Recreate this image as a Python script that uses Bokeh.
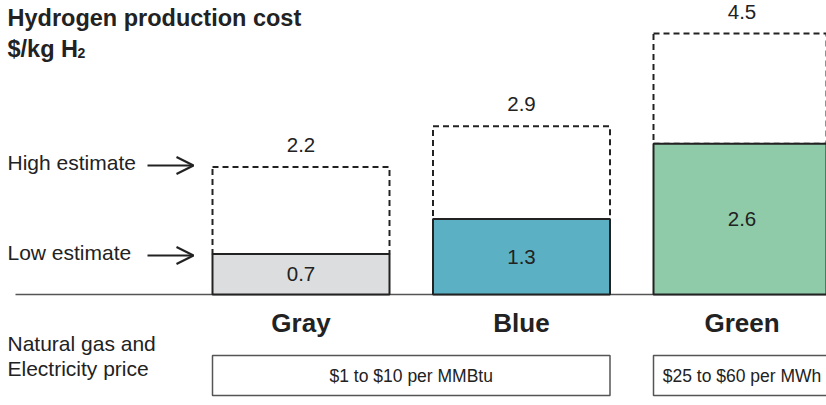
from bokeh.plotting import figure
from bokeh.models import Range1d, Arrow, OpenHead, ColumnDataSource
from bokeh.core.properties import value
from bokeh.embed import file_html
from bokeh.resources import INLINE

# ---- data ----
categories = ["Gray", "Blue", "Green"]
low_estimate = [0.7, 1.3, 2.6]
high_estimate = [2.2, 2.9, 4.5]
bar_colors = ["#dcdddf", "#5bb1c3", "#8fcba8"]
price_labels = ["$1 to $10 per MMBtu", "$25 to $60 per MWh"]
price_groups = [(0, 1), (2, 2)]  # category index span of each price box
title_line1 = "Hydrogen production cost"
title_line2 = "$/kg H"
title_sub = "2"
row_label = ["Natural gas and", "Electricity price"]
marker_labels = ["High estimate", "Low estimate"]

FONT = "Liberation Sans"
W, H = 826, 405
PX_PER_CAT = 220.5
FIRST_CENTER = 300.5
BASE_PX = 294
PX_PER_UNIT = 58.0
BAR_W = 177 / PX_PER_CAT
TXT = "#222222"


def xs(px):
    return (px - FIRST_CENTER) / PX_PER_CAT


def ys(px):
    return (BASE_PX - px) / PX_PER_UNIT


p = figure(width=W, height=H, output_backend="svg", toolbar_location=None,
           x_range=Range1d(xs(0), xs(W)), y_range=Range1d(ys(H), ys(0)),
           min_border=0, min_border_left=0, min_border_right=0,
           min_border_top=0, min_border_bottom=0)
p.axis.visible = False
p.grid.visible = False
p.outline_line_color = None
p.background_fill_color = "white"
p.border_fill_color = "white"

idx = list(range(len(categories)))
src = ColumnDataSource(dict(x=idx, low=low_estimate, high=high_estimate,
                            color=bar_colors, cat=categories,
                            low_txt=[f"{v:.1f}" for v in low_estimate],
                            high_txt=[f"{v:.1f}" for v in high_estimate],
                            low_mid=[v / 2 for v in low_estimate],
                            high_lab=[v + 22 / PX_PER_UNIT for v in high_estimate],
                            cat_y=[ys(322)] * len(categories)))

# baseline
p.segment(x0=[xs(15)], y0=[0], x1=[xs(W + 5)], y1=[0], line_color="#555555", line_width=1.5)

# dashed high-estimate boxes
p.vbar(x="x", width=BAR_W, bottom="low", top="high", source=src, fill_color=None,
       line_color="#222222", line_width=2, line_dash="6 4")
# solid low-estimate bars
p.vbar(x="x", width=BAR_W, bottom=0, top="low", source=src, fill_color="color",
       line_color="#222222", line_width=2)

p.text(x="x", y="low_mid", text="low_txt", source=src, text_align="center",
       text_baseline="middle", text_font=value(FONT), text_font_size="20.5px", text_color=TXT)
p.text(x="x", y="high_lab", text="high_txt", source=src, text_align="center",
       text_baseline="middle", text_font=value(FONT), text_font_size="20.5px", text_color=TXT)
p.text(x="x", y="cat_y", text="cat", source=src, text_align="center",
       text_baseline="middle", text_font=value(FONT), text_font_size="26px",
       text_font_style="bold", text_color=TXT)

# price boxes
lefts = [idx[a] - BAR_W / 2 for a, b in price_groups]
rights = [idx[b] + BAR_W / 2 for a, b in price_groups]
p.quad(left=lefts, right=rights, top=[ys(355)] * 2, bottom=[ys(395)] * 2,
       fill_color="white", line_color="#555555", line_width=1.5)
p.text(x=[(l + r) / 2 for l, r in zip(lefts, rights)], y=[ys(375)] * 2, text=price_labels,
       text_align="center", text_baseline="middle", text_font=value(FONT),
       text_font_size="17.5px", text_color=TXT)

# title
p.text(x=[xs(7)], y=[ys(17)], text=[title_line1], text_align="left", text_baseline="middle",
       text_font=value(FONT), text_font_size="23.5px", text_font_style="bold", text_color=TXT)
p.text(x=[xs(7)], y=[ys(48)], text=[title_line2], text_align="left", text_baseline="middle",
       text_font=value(FONT), text_font_size="23.5px", text_font_style="bold", text_color=TXT)
p.text(x=[xs(77)], y=[ys(52)], text=[title_sub], text_align="left", text_baseline="middle",
       text_font=value(FONT), text_font_size="14px", text_font_style="bold", text_color=TXT)

# marker labels and arrows
marker_y = [ys(162), ys(252)]
p.text(x=[xs(7)] * 2, y=marker_y, text=marker_labels, text_align="left", text_baseline="middle",
       text_font=value(FONT), text_font_size="21px", text_color=TXT)
for yy in marker_y:
    ay = yy - 3 / PX_PER_UNIT
    p.add_layout(Arrow(end=OpenHead(size=17, line_width=2.2, line_color="#222222"),
                       x_start=xs(147), y_start=ay, x_end=xs(193), y_end=ay,
                       line_width=2.2, line_color="#222222"))

# row label
p.text(x=[xs(7)] * 2, y=[ys(343), ys(368)], text=row_label, text_align="left",
       text_baseline="middle", text_font=value(FONT), text_font_size="21px", text_color=TXT)

open("out.html", "w").write(file_html(p, INLINE))
